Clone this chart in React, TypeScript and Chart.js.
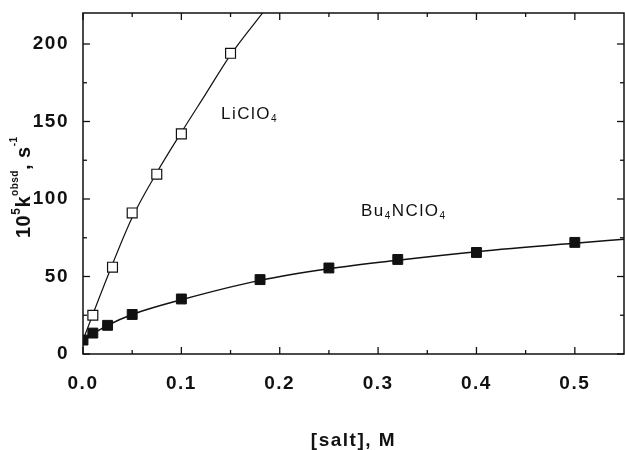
import React, { useEffect, useRef } from "react";
import { Chart, registerables } from "chart.js";

Chart.register(...registerables);

// Measured data (open squares: LiClO4, filled squares: Bu4NClO4)
const liclo4Conc = [0.01, 0.03, 0.05, 0.075, 0.1, 0.15];
const liclo4Rate = [25, 56, 91, 116, 142, 194];
const bu4nConc = [0, 0.01, 0.025, 0.05, 0.1, 0.18, 0.25, 0.32, 0.4, 0.5];
const bu4nRate = [9, 13.5, 18.5, 25.5, 35.5, 48, 55.5, 61, 65.5, 72];

// Fitted curves
const liclo4FitConc = [0, 0.025, 0.05, 0.075, 0.1, 0.125, 0.15, 0.185];
const liclo4FitRate = [9, 50, 88, 117, 143, 168, 193, 222];
const bu4nFitConc = [0, 0.01, 0.025, 0.05, 0.1, 0.18, 0.25, 0.32, 0.4, 0.5, 0.55];
const bu4nFitRate = [9, 13, 18.5, 25.5, 35, 47.5, 55, 60.5, 66, 71.5, 74];

// Axis ticks
const xMajorTicks = [0, 0.1, 0.2, 0.3, 0.4, 0.5];
const xMinorTicks = [0.05, 0.15, 0.25, 0.35, 0.45];
const yMajorTicks = [0, 50, 100, 150, 200];
const yMinorTicks = [25, 75, 125, 175];
const xMin = 0;
const xMax = 0.55;
const yMin = 0;
const yMax = 220;

const FONT = "'Liberation Sans', Arial, Helvetica, sans-serif";
const INK = "#111";

const toXY = (xs: number[], ys: number[]) => xs.map((x, i) => ({ x, y: ys[i] }));

function drawRich(
  ctx: CanvasRenderingContext2D,
  parts: { t: string; size: number; dy: number; weight?: string }[],
  x0: number,
  y0: number
) {
  let x = x0;
  for (const p of parts) {
    ctx.font = `${p.weight || "normal"} ${p.size}px ${FONT}`;
    ctx.fillText(p.t, x, y0 + p.dy);
    x += ctx.measureText(p.t).width;
  }
}

const framePlugin = {
  id: "frameTicks",
  beforeDraw(chart: any) {
    chart.ctx.letterSpacing = "1.5px";
  },
  afterDraw(chart: any) {
    const { ctx, chartArea: a, scales } = chart;
    const xs = scales.x;
    const ys = scales.y;
    ctx.save();
    ctx.strokeStyle = INK;
    ctx.fillStyle = INK;
    ctx.lineWidth = 1.5;
    ctx.strokeRect(a.left, a.top, a.right - a.left, a.bottom - a.top);
    ctx.lineWidth = 1.3;
    const seg = (x1: number, y1: number, x2: number, y2: number) => {
      ctx.beginPath();
      ctx.moveTo(x1, y1);
      ctx.lineTo(x2, y2);
      ctx.stroke();
    };
    const xt = (vals: number[], len: number) => {
      for (const v of vals) {
        const p = xs.getPixelForValue(v);
        seg(p, a.bottom, p, a.bottom - len);
        seg(p, a.top, p, a.top + len);
      }
    };
    const yt = (vals: number[], len: number) => {
      for (const v of vals) {
        const p = ys.getPixelForValue(v);
        seg(a.left, p, a.left + len, p);
        seg(a.right, p, a.right - len, p);
      }
    };
    xt(xMajorTicks, 7);
    xt(xMinorTicks, 4);
    yt(yMajorTicks, 7);
    yt(yMinorTicks, 4);

    ctx.letterSpacing = "1.5px";
    ctx.textBaseline = "alphabetic";
    ctx.textAlign = "left";

    // x title
    ctx.font = `bold 19px ${FONT}`;
    const xt0 = "[salt], M";
    const w = ctx.measureText(xt0).width;
    ctx.fillText(xt0, (a.left + a.right) / 2 - w / 2, 446);

    // y title (rotated)
    ctx.save();
    ctx.letterSpacing = "0.5px";
    ctx.translate(30, 238);
    ctx.rotate(-Math.PI / 2);
    drawRich(
      ctx,
      [
        { t: "10", size: 20, dy: 0, weight: "bold" },
        { t: "5", size: 12, dy: -10, weight: "bold" },
        { t: "k", size: 20, dy: 0, weight: "bold" },
        { t: "obsd", size: 10, dy: -12, weight: "bold" },
        { t: ", s", size: 20, dy: 0, weight: "bold" },
        { t: "-1", size: 10, dy: -13, weight: "bold" },
      ],
      0,
      0
    );
    ctx.restore();

    // Series labels
    ctx.letterSpacing = "1.5px";
    drawRich(
      ctx,
      [
        { t: "LiClO", size: 17, dy: 0 },
        { t: "4", size: 10, dy: 3 },
      ],
      xs.getPixelForValue(0.1403),
      ys.getPixelForValue(151.6)
    );
    drawRich(
      ctx,
      [
        { t: "Bu", size: 17, dy: 0 },
        { t: "4", size: 10, dy: 3 },
        { t: "NClO", size: 17, dy: 0 },
        { t: "4", size: 10, dy: 3 },
      ],
      xs.getPixelForValue(0.2826),
      ys.getPixelForValue(89)
    );
    ctx.restore();
  },
};

export default function App() {
  const ref = useRef<HTMLCanvasElement | null>(null);
  useEffect(() => {
    if (!ref.current) return;
    const chart = new Chart(ref.current, {
      type: "scatter",
      data: {
        datasets: [
          {
            label: "LiClO4",
            data: toXY(liclo4Conc, liclo4Rate),
            pointStyle: "rect",
            pointRadius: 7,
            backgroundColor: "#fff",
            borderColor: INK,
            borderWidth: 1.2,
            showLine: false,
          },
          {
            label: "Bu4NClO4",
            data: toXY(bu4nConc, bu4nRate),
            pointStyle: "rect",
            pointRadius: 7,
            backgroundColor: INK,
            borderColor: INK,
            borderWidth: 1,
            showLine: false,
          },
          {
            label: "LiClO4 fit",
            data: toXY(liclo4FitConc, liclo4FitRate),
            showLine: true,
            pointRadius: 0,
            borderColor: INK,
            borderWidth: 1.2,
            cubicInterpolationMode: "monotone",
          },
          {
            label: "Bu4NClO4 fit",
            data: toXY(bu4nFitConc, bu4nFitRate),
            showLine: true,
            pointRadius: 0,
            borderColor: INK,
            borderWidth: 1.5,
            cubicInterpolationMode: "monotone",
          },
        ],
      },
      options: {
        responsive: false,
        animation: false,
        devicePixelRatio: 1,
        layout: { autoPadding: false, padding: { top: 13, right: 1, left: 0, bottom: 0 } },
        plugins: {
          legend: { display: false },
          tooltip: { enabled: false },
        },
        scales: {
          x: {
            type: "linear",
            min: xMin,
            max: xMax,
            grid: { display: false, drawTicks: false },
            border: { display: false },
            afterFit: (s: any) => {
              s.height = 96;
              s.paddingLeft = 0;
              s.paddingRight = 0;
            },
            ticks: {
              stepSize: 0.1,
              includeBounds: false,
              autoSkip: false,
              maxRotation: 0,
              padding: 18,
              color: INK,
              font: { family: FONT, size: 19, weight: "bold" },
              callback: (v: any) => Number(v).toFixed(1),
            },
          },
          y: {
            type: "linear",
            min: yMin,
            max: yMax,
            grid: { display: false, drawTicks: false },
            border: { display: false },
            afterFit: (s: any) => {
              s.width = 83;
              s.paddingTop = 0;
              s.paddingBottom = 0;
            },
            ticks: {
              stepSize: 50,
              includeBounds: false,
              padding: 14,
              color: INK,
              font: { family: FONT, size: 19, weight: "bold" },
            },
          },
        },
      },
      plugins: [framePlugin],
    } as any);
    return () => chart.destroy();
  }, []);
  return (
    <div style={{ position: "absolute", left: 0, top: 0, width: 625, height: 450, background: "#fff" }}>
      <canvas ref={ref} width={625} height={450} />
    </div>
  );
}
